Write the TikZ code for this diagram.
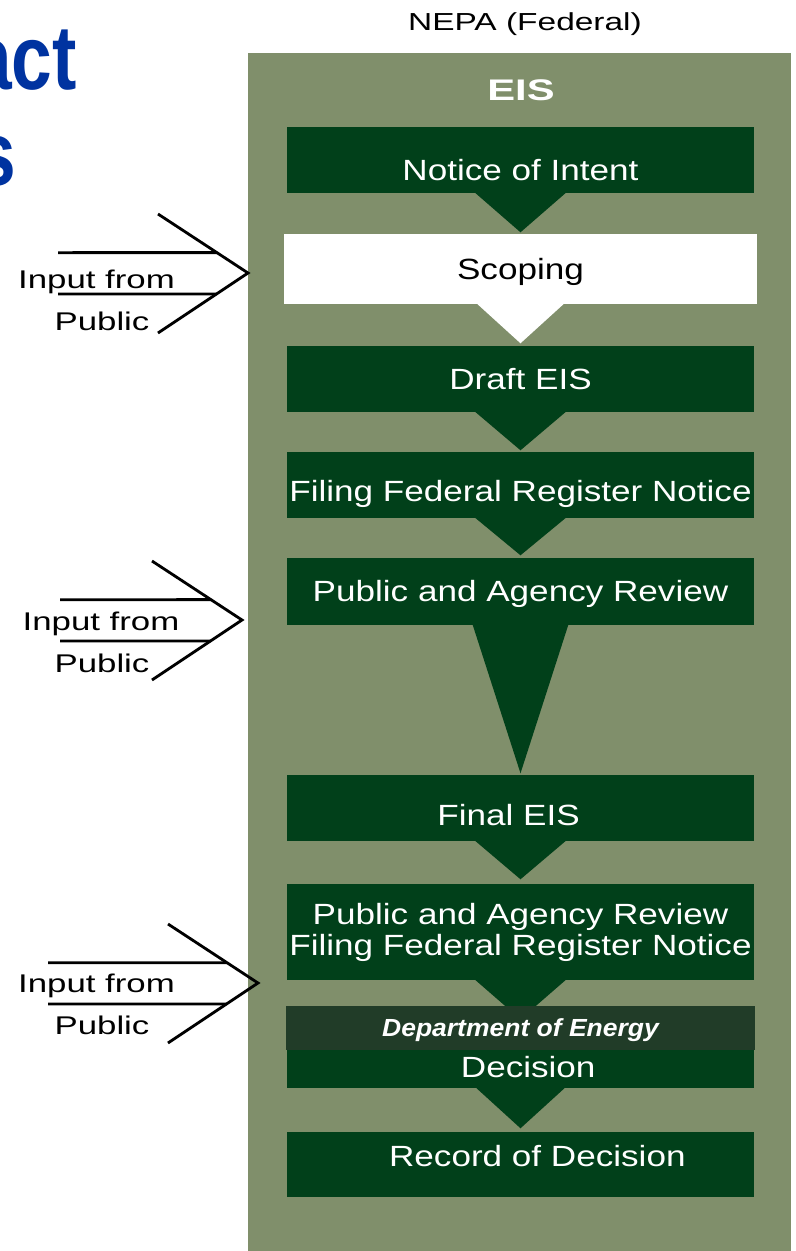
\documentclass[tikz,border=0pt]{standalone}
\usepackage{fontspec}
\setmainfont{Liberation Sans}
\newfontfamily\boxfont[FakeStretch=1.2]{Liberation Sans}
\newfontfamily\labfont[FakeStretch=1.36]{Liberation Sans}
\newfontfamily\eisfont[FakeStretch=1.4]{Liberation Sans}
\newfontfamily\doefont[FakeStretch=1.07]{Liberation Sans}
\newfontfamily\titlefont[FakeStretch=0.8]{Liberation Sans}
\usetikzlibrary{calc}
\definecolor{eisolive}{RGB}{128,143,107}
\definecolor{eisgreen}{RGB}{1,64,26}
\definecolor{doegreen}{RGB}{33,60,40}
\definecolor{titleblue}{RGB}{0,51,160}
\def\pxu{0.025cm}

\begin{document}
\begin{tikzpicture}[x=\pxu, y=-\pxu]
    \tikzstyle{stagebase}=[rectangle, fill=eisgreen, text=white, inner sep=0pt,
        minimum width=467*\pxu, minimum height=66*\pxu,
        font=\boxfont\fontsize{20.8}{22}\selectfont]
    \tikzstyle{stage}=[stagebase, text height=14.9pt, text depth=0pt]
    \tikzstyle{pubtext}=[inner sep=0pt, text height=13pt, text depth=0pt,
        font=\labfont\fontsize{18.2}{20}\selectfont]
    \tikzstyle{publine}=[draw=black, line width=2pt]
    \tikzstyle{titletext}=[inner sep=0pt, text=titleblue,
        font=\titlefont\bfseries\fontsize{65}{70}\selectfont]

    % Page and the olive EIS panel
    \path[use as bounding box, fill=white] (0,0) rectangle (796,1251);
    \fill[eisolive] (248,53) rectangle (791,1251);

    % Cut-off slide title
    \node[titletext, anchor=base east] (ttl-1) at (77,89) {act};
    \node[titletext, anchor=base east] (ttl-2) at (16,185) {s};

    % Headings
    \node[pubtext, text height=12.5pt, font=\labfont\fontsize{17.5}{20}\selectfont]
        (nepa) at (525,22) {NEPA (Federal)};
    \node[inner sep=0pt, text=white, text height=15.2pt, text depth=0pt,
        font=\eisfont\bfseries\fontsize{21.2}{24}\selectfont] (eis) at (521,90) {EIS};

    % Draw the stages
    \node[stage, text height=29.1pt] (noi) at (520.5,160) {Notice of Intent};
    \node[stage, fill=white, text=black, minimum width=473*\pxu, minimum height=70*\pxu]
        (scop) at (520.5,269) {Scoping};
    \node[stage] (deis) at (520.5,379) {Draft EIS};
    \node[stage, text height=23.4pt] (ffrn) at (520.5,485) {Filing Federal Register Notice};
    \node[stage, minimum height=67*\pxu] (par) at (520.5,591.5) {Public and Agency Review};
    \node[stage, text height=24.9pt] (feis) at (520.5,808) {Final EIS\hspace*{17pt}};
    \node[stagebase, minimum height=96*\pxu, align=center] (parf) at (520.5,932)
        {Public and Agency Review\\Filing Federal Register Notice};
    \node[stage, minimum height=38*\pxu, text height=12.1pt] (dec) at (520.5,1069)
        {\hspace*{11pt}Decision};
    \node[stage, minimum height=65*\pxu, text height=2.8pt] (rod) at (520.5,1164.5)
        {\hspace*{24pt}Record of Decision};

    % Connect every stage with the next one
    \foreach \stg/\half/\tip in {noi/46/39, deis/46/38, ffrn/46/37, par/48/148,
                                 feis/46/38, parf/46/39, dec/45/40}
        \fill[eisgreen] ([shift={(-\half,-1)}]\stg.south) -- ([shift={(\half,-1)}]\stg.south)
            -- ([yshift=-\tip*\pxu]\stg.south) -- cycle;
    \fill[white] ([shift={(-44,-1)}]scop.south) -- ([shift={(44,-1)}]scop.south)
        -- ([yshift=-39*\pxu]scop.south) -- cycle;

    % Department of Energy bar over the decision
    \node[stage, fill=doegreen, minimum width=469*\pxu, minimum height=44*\pxu,
        text height=12.6pt, font=\doefont\bfseries\itshape\fontsize{17.6}{20}\selectfont]
        (doe) at (520.5,1028) {Department of Energy};

    % Input from the public
    \foreach \n/\ax/\ay/\lx/\ix/\iy/\py in {1/248/273/58/96.5/279/321.5,
                                            2/242/620/60/101/621/663,
                                            3/258/983/48/96.5/983/1025}
    {
        \coordinate (tip-\n) at (\ax,\ay);
        \coordinate (top-\n) at (\ax-90,\ay-59);
        \coordinate (bot-\n) at (\ax-90,\ay+60);
        \coordinate (ua-\n) at ($(top-\n)!0.655!(tip-\n)$);
        \coordinate (la-\n) at ($(bot-\n)!0.65!(tip-\n)$);
        \coordinate (hu-\n) at (\lx,\ay-20.35);
        \coordinate (hl-\n) at (\lx,\ay+21);
        \draw[publine] (top-\n) -- (tip-\n) -- (bot-\n);
        \draw[publine] (hu-\n) -- (ua-\n);
        \draw[publine] (hl-\n) -- (la-\n);
        \node[pubtext] (in-\n) at (\ix,\iy) {Input from};
        \node[pubtext] (pub-\n) at (102,\py) {Public};
    }
\end{tikzpicture}
\end{document}
